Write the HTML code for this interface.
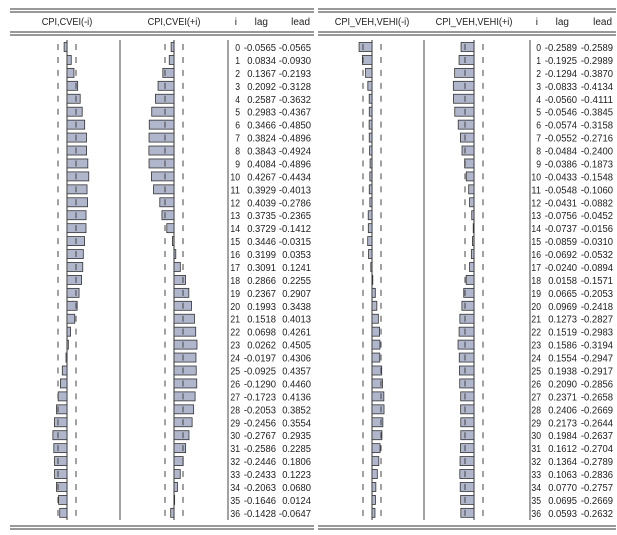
<!DOCTYPE html>
<html><head><meta charset="utf-8">
<style>
html,body{margin:0;padding:0;background:#fff;}
svg{display:block;font-family:"Liberation Sans",sans-serif;}
</style></head>
<body>
<svg id="s" width="617" height="535" xmlns="http://www.w3.org/2000/svg"></svg>
<script>
const L=[[-0.0565,-0.0565],[0.0834,-0.0930],[0.1367,-0.2193],[0.2092,-0.3128],[0.2587,-0.3632],[0.2983,-0.4367],[0.3466,-0.4850],[0.3824,-0.4896],[0.3843,-0.4924],[0.4084,-0.4896],[0.4267,-0.4434],[0.3929,-0.4013],[0.4039,-0.2786],[0.3735,-0.2365],[0.3729,-0.1412],[0.3446,-0.0315],[0.3199,0.0353],[0.3091,0.1241],[0.2866,0.2255],[0.2367,0.2907],[0.1993,0.3438],[0.1518,0.4013],[0.0698,0.4261],[0.0262,0.4505],[-0.0197,0.4306],[-0.0925,0.4357],[-0.1290,0.4460],[-0.1723,0.4136],[-0.2053,0.3852],[-0.2456,0.3554],[-0.2767,0.2935],[-0.2586,0.2285],[-0.2446,0.1806],[-0.2433,0.1223],[-0.2063,0.0680],[-0.1646,0.0124],[-0.1428,-0.0647]];
const R=[[-0.2589,-0.2589],[-0.1925,-0.2989],[-0.1294,-0.3870],[-0.0833,-0.4134],[-0.0560,-0.4111],[-0.0546,-0.3845],[-0.0574,-0.3158],[-0.0552,-0.2716],[-0.0484,-0.2400],[-0.0386,-0.1873],[-0.0433,-0.1548],[-0.0548,-0.1060],[-0.0431,-0.0882],[-0.0756,-0.0452],[-0.0737,-0.0156],[-0.0859,-0.0310],[-0.0692,-0.0532],[-0.0240,-0.0894],[0.0158,-0.1571],[0.0665,-0.2053],[0.0969,-0.2418],[0.1273,-0.2827],[0.1519,-0.2983],[0.1586,-0.3194],[0.1554,-0.2947],[0.1938,-0.2917],[0.2090,-0.2856],[0.2371,-0.2658],[0.2406,-0.2669],[0.2173,-0.2644],[0.1984,-0.2637],[0.1612,-0.2704],[0.1364,-0.2789],[0.1063,-0.2836],[0.0770,-0.2757],[0.0695,-0.2669],[0.0593,-0.2632]];
let h='';
const f=v=>(v<0?'-':'')+Math.abs(v).toFixed(4);
function num(x,y,s){const w=s.length*4.8-(s[0]=='-'?1.5:0);return `<text x="${x}" y="${y}" text-anchor="end" textLength="${w}" lengthAdjust="spacingAndGlyphs">${s}</text>`;}
function panel(d,x0,x1,c1,c2,sep1,sep2,bd,sc,t1,t2,xi,xl,xd){
  h+=`<line x1="${x0}" x2="${x1}" y1="9" y2="9" stroke="#333"/><line x1="${x0}" x2="${x1}" y1="12" y2="12" stroke="#333"/>`;
  h+=`<line x1="${x0}" x2="${x1}" y1="32" y2="32" stroke="#333"/><line x1="${x0}" x2="${x1}" y1="35" y2="35" stroke="#333"/>`;
  h+=`<line x1="${x0}" x2="${x1}" y1="526" y2="526" stroke="#333"/><line x1="${x0}" x2="${x1}" y1="529" y2="529" stroke="#333"/>`;
  h+=`<g font-size="10" fill="#222"><text x="${c1}" y="25" text-anchor="middle" transform="translate(${c1} 0) scale(0.92 1) translate(${-c1} 0)">${t1}</text><text x="${c2}" y="25" text-anchor="middle" transform="translate(${c2} 0) scale(0.92 1) translate(${-c2} 0)">${t2}</text><text x="${xi-3}" y="25" text-anchor="end">i</text><text x="${xl-8}" y="25" text-anchor="end">lag</text><text x="${xd-1}" y="25" text-anchor="end">lead</text></g>`;
  h+=`<line x1="${sep1}" x2="${sep1}" y1="40" y2="520" stroke="#444"/><line x1="${sep2}" x2="${sep2}" y1="40" y2="520" stroke="#444"/>`;
  h+=`<line x1="${c1}" x2="${c1}" y1="40" y2="520" stroke="#333"/><line x1="${c2}" x2="${c2}" y1="40" y2="520" stroke="#333"/>`;
  d.forEach((r,i)=>{
    const y=47+i*12.94;
    [[c1,r[0]],[c2,r[1]]].forEach(([c,v])=>{
      const w=v*sc;const xa=w<0?c+w:c;
      h+=`<rect x="${xa}" y="${y-4.5}" width="${Math.abs(w)}" height="9" fill="#b0b6cc" stroke="#333" stroke-width="0.8"/>`;
      h+=`<line x1="${c-bd}" x2="${c-bd}" y1="${y-3}" y2="${y+3}" stroke="#444"/><line x1="${c+bd}" x2="${c+bd}" y1="${y-3}" y2="${y+3}" stroke="#444"/>`;
    });
    h+=`<g font-size="10" fill="#222">${num(xi,y+4,String(i))}${num(xl,y+4,f(r[0]))}${num(xd,y+4,f(r[1]))}</g>`;
  });
}
panel(L,10,314,67,174,120,228,9,51,'CPI,CVEI(-i)','CPI,CVEI(+i)',240,276,311);
panel(R,318,616,372,474,424,530,9,50,'CPI_VEH,VEHI(-i)','CPI_VEH,VEHI(+i)',541,577,613);
document.getElementById('s').innerHTML=h;
</script>
</body></html>
